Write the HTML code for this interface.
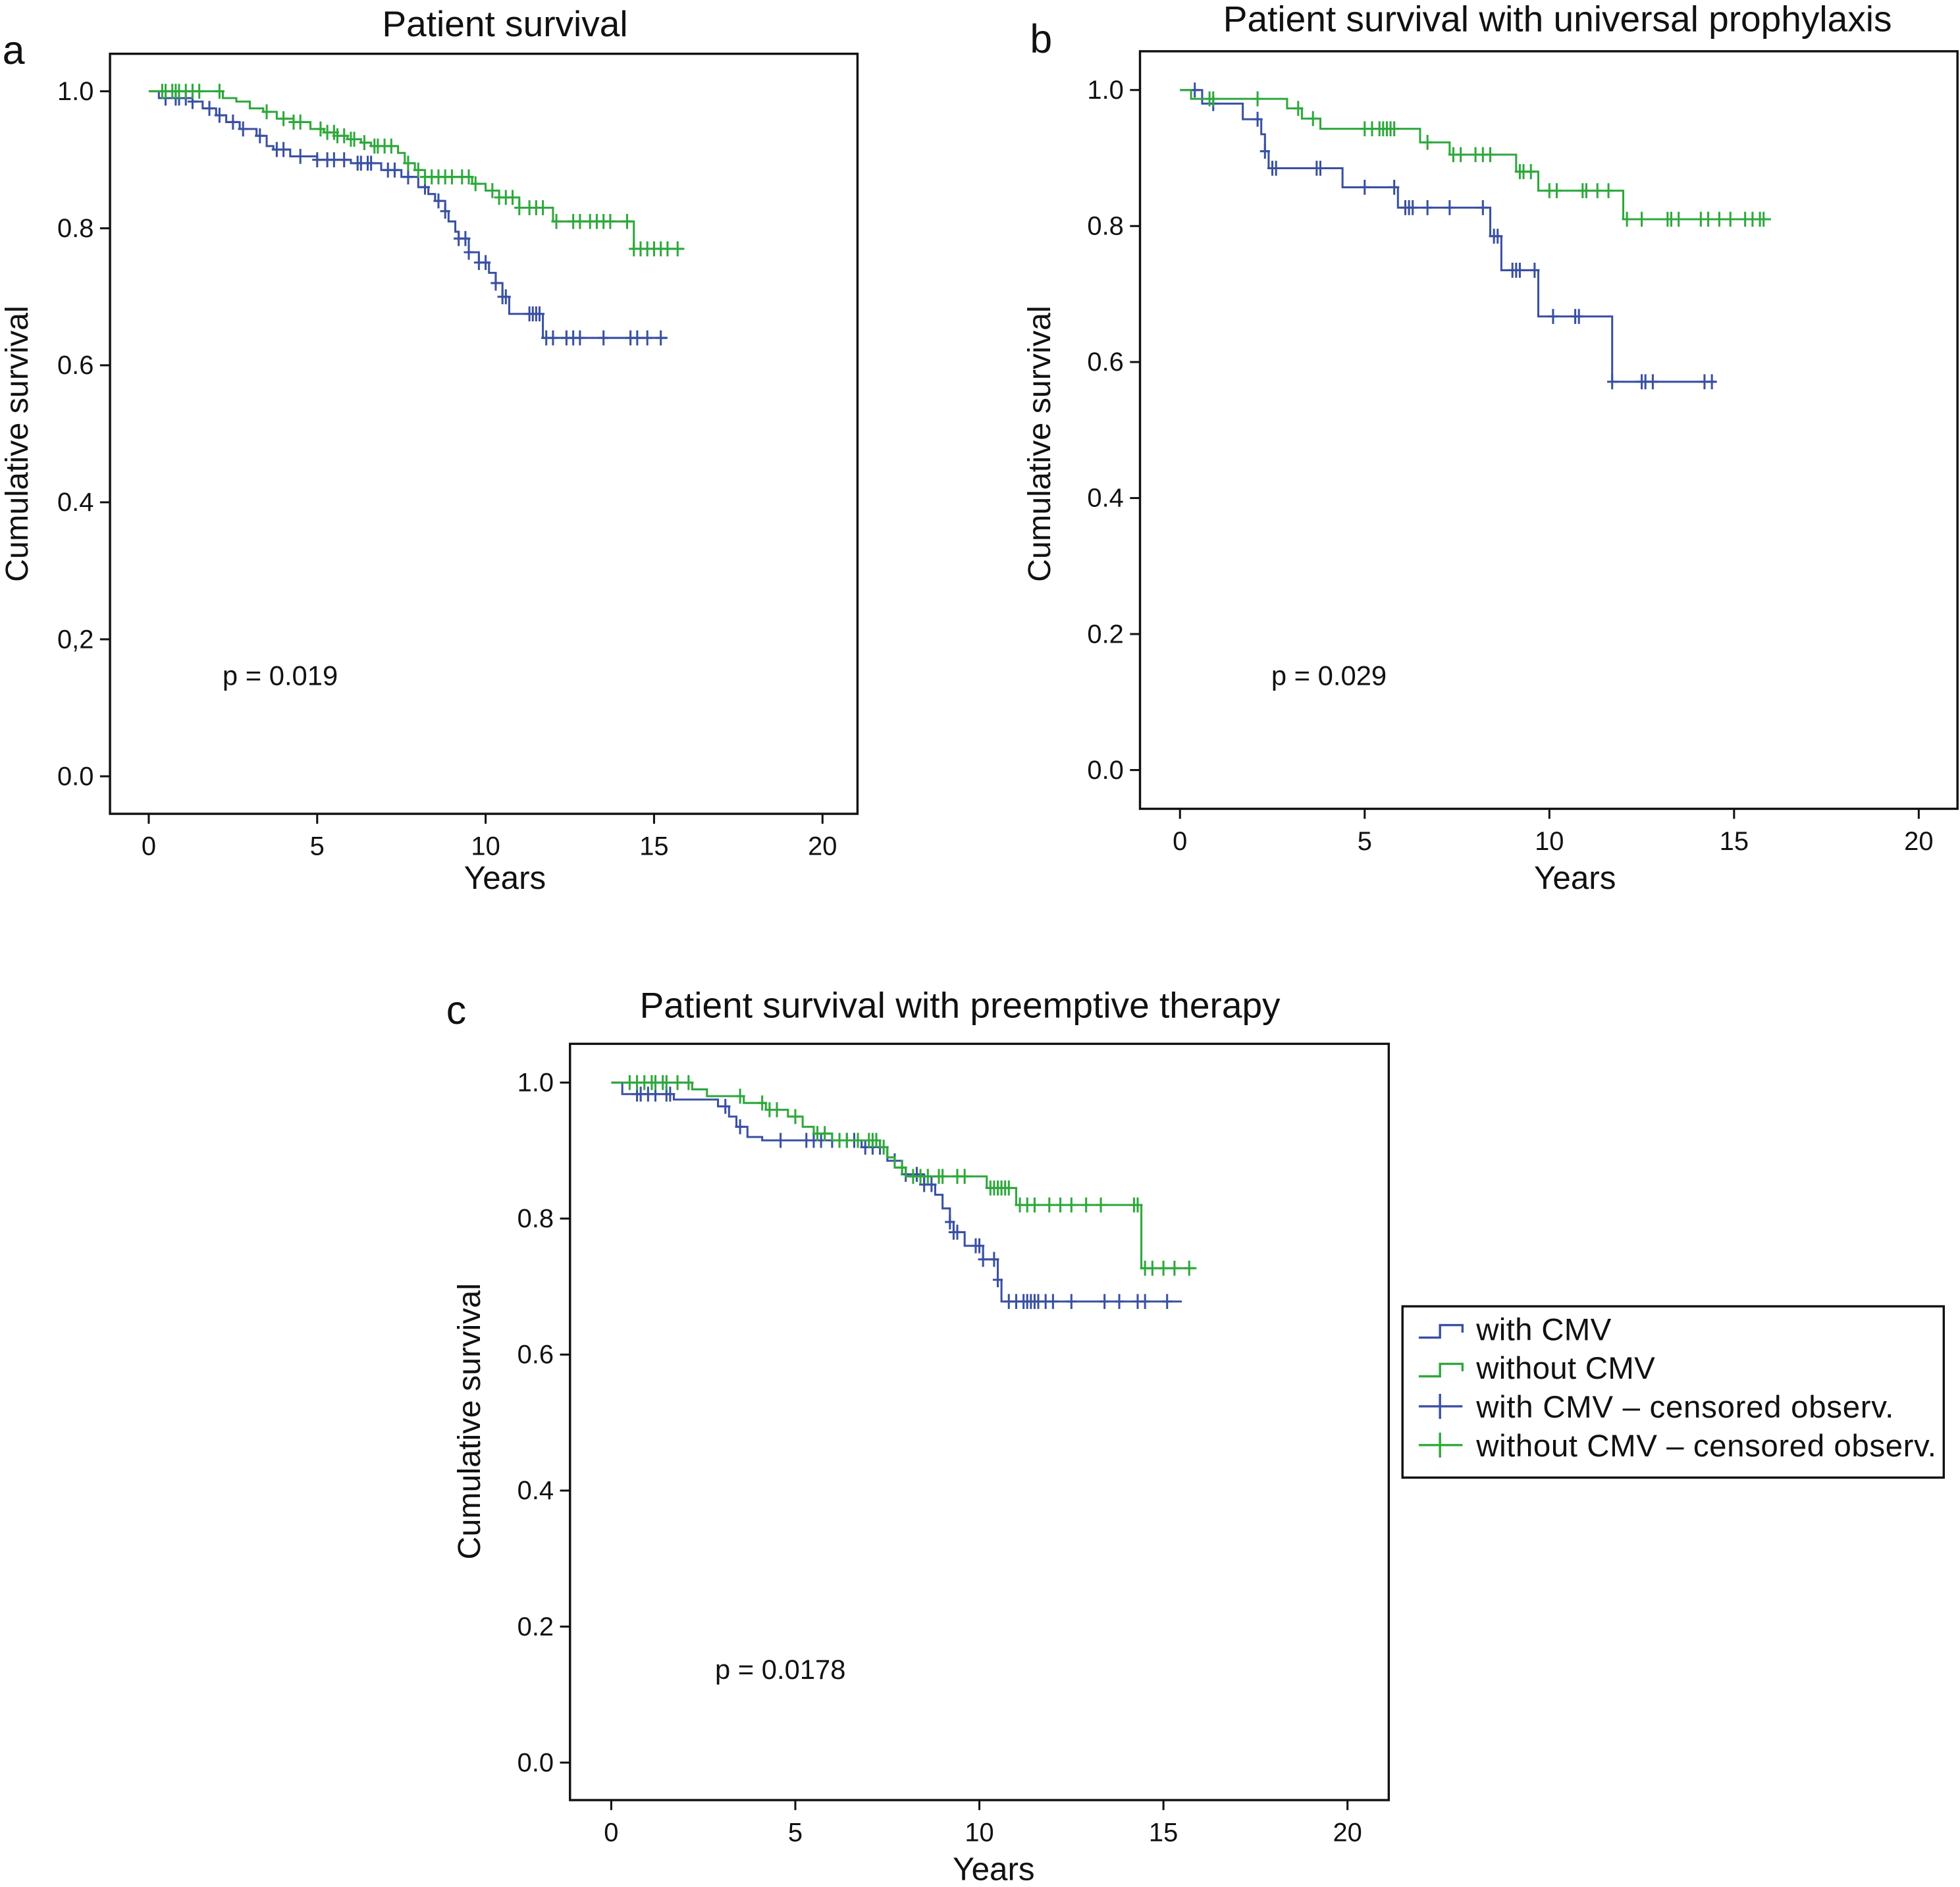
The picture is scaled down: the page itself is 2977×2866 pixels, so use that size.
<!DOCTYPE html>
<html><head><meta charset="utf-8"><style>
html,body{margin:0;padding:0;background:#fff}
svg{display:block}
text{font-family:"Liberation Sans",Arial,sans-serif;fill:#111}
</style></head><body>
<svg id="fig" width="2977" height="2866" viewBox="0 0 1568 1509.5" xmlns="http://www.w3.org/2000/svg">
<rect width="1568" height="1510" fill="#fff"/>
</svg>
<script>
// ---- Panel a data ----
const aBlueTimes=[0.3,1.3,1.6,2.0,2.3,2.7,3.2,3.5,3.7,4.2,5.0,6.0,6.9,7.5,8.0,8.3,8.5,8.8,8.9,9.1,9.2,9.5,9.8,10.1,10.3,10.5,10.7,11.7];
const aBlueSurv=[0.99,0.985,0.975,0.965,0.955,0.945,0.935,0.92,0.915,0.905,0.90,0.895,0.885,0.875,0.86,0.85,0.84,0.825,0.81,0.795,0.785,0.765,0.75,0.735,0.72,0.70,0.675,0.64];
const aBlueEnd=15.4;
const aBlueCens=[0.5,0.8,0.9,1.1,1.3,1.8,2.1,2.5,2.8,3.3,3.8,4.0,4.5,5.0,5.3,5.5,5.8,6.2,6.3,6.5,6.6,7.1,7.3,7.7,8.2,8.6,8.8,9.2,9.4,9.5,9.8,10.0,10.3,10.5,10.6,11.3,11.4,11.5,11.6,11.8,12.0,12.4,12.6,12.8,13.5,14.3,14.5,14.8,15.2];
const aGreenTimes=[2.2,2.6,3.0,3.4,3.8,4.3,4.8,5.2,5.6,5.9,6.3,6.6,7.4,7.6,7.9,8.2,9.6,10.0,10.4,11.0,12.0,14.4];
const aGreenSurv=[0.99,0.985,0.975,0.97,0.96,0.955,0.945,0.94,0.935,0.93,0.925,0.92,0.91,0.895,0.885,0.875,0.865,0.855,0.845,0.83,0.81,0.77];
const aGreenEnd=15.9;
const aGreenCens=[0.4,0.5,0.7,0.8,0.9,1.1,1.3,1.5,2.1,3.5,4.0,4.3,4.5,5.1,5.3,5.5,5.6,5.8,6.0,6.1,6.4,6.7,6.8,7.0,7.2,7.7,8.0,8.2,8.4,8.6,8.8,9.0,9.3,9.5,9.7,10.2,10.4,10.6,10.8,11.0,11.3,11.5,11.7,12.1,12.6,12.8,13.1,13.3,13.5,13.7,14.2,14.4,14.6,14.8,15.0,15.2,15.4,15.7];
// ---- Panel b data ----
const bBlueTimes=[0.6,1.7,2.2,2.3,2.4,4.4,5.9,8.4,8.7,9.7,11.7];
const bBlueSurv=[0.98,0.957,0.935,0.91,0.885,0.857,0.827,0.785,0.735,0.667,0.571];
const bBlueEnd=14.5;
const bBlueCens=[0.4,0.9,2.1,2.3,2.5,2.6,3.7,3.8,5.0,5.8,6.1,6.2,6.3,6.7,7.3,8.2,8.5,8.6,9.0,9.1,9.2,9.6,10.1,10.7,10.8,11.7,12.5,12.6,12.8,14.2,14.4];
const bGreenTimes=[0.3,2.9,3.3,3.8,6.5,7.3,9.1,9.7,12.0];
const bGreenSurv=[0.987,0.973,0.958,0.943,0.923,0.905,0.88,0.852,0.81];
const bGreenEnd=16.0;
const bGreenCens=[0.8,0.9,2.1,3.2,3.6,5.0,5.2,5.4,5.5,5.6,5.7,5.8,6.7,7.4,7.6,8.0,8.2,8.4,9.2,9.3,9.5,10.0,10.2,10.9,11.0,11.3,11.6,12.1,12.5,13.2,13.3,13.5,14.1,14.3,14.6,14.9,15.3,15.5,15.7,15.8];
// ---- Panel c data ----
const cBlueTimes=[0.3,1.7,2.9,3.2,3.4,3.7,4.1,6.8,7.5,7.9,8.5,8.8,9.0,9.2,9.3,9.6,10.1,10.5,10.6];
const cBlueSurv=[0.983,0.975,0.965,0.95,0.935,0.92,0.915,0.905,0.885,0.865,0.85,0.835,0.815,0.795,0.78,0.76,0.74,0.71,0.678];
const cBlueEnd=15.5;
const cBlueCens=[0.7,0.8,1.0,1.2,1.5,1.6,3.1,3.5,4.6,5.3,5.5,5.7,6.0,6.4,6.6,6.9,7.1,7.3,7.7,8.0,8.3,8.5,8.7,9.2,9.3,9.4,9.9,10.0,10.1,10.4,10.5,10.8,11.0,11.2,11.3,11.4,11.5,11.6,11.8,12.0,12.5,13.4,13.8,14.3,14.5,15.1];
const cGreenTimes=[2.2,2.6,3.6,4.2,4.8,5.2,5.5,6.0,7.3,7.5,7.7,8.0,10.2,11.0,14.4];
const cGreenSurv=[0.99,0.98,0.97,0.96,0.95,0.935,0.925,0.915,0.905,0.89,0.875,0.862,0.845,0.82,0.727];
const cGreenEnd=15.9;
const cGreenCens=[0.5,0.7,0.9,1.1,1.2,1.4,1.5,1.8,2.1,3.5,4.1,4.3,4.5,5.0,5.6,5.8,6.2,6.4,6.7,7.0,7.1,7.2,7.4,7.9,8.2,8.4,8.6,8.9,9.0,9.4,9.6,10.3,10.4,10.5,10.6,10.7,10.8,11.1,11.3,11.5,11.9,12.2,12.5,12.9,13.3,14.2,14.3,14.5,14.7,15.0,15.3,15.7];
const yTicksA=["0.0","0,2","0.4","0.6","0.8","1.0"];
const yTicks=["0.0","0.2","0.4","0.6","0.8","1.0"];
const xTicks=[0,5,10,15,20];

const NS="http://www.w3.org/2000/svg";
const svg=document.getElementById('fig');
const BLUE="#3a50a2", GREEN="#2ea83c";
function mk(tag,attrs,parent){const e=document.createElementNS(NS,tag);for(const k in attrs)e.setAttribute(k,attrs[k]);(parent||svg).appendChild(e);return e;}
function txt(s,x,y,size,anchor,parent,rot){const t=mk('text',{x:x,y:y,'font-size':size,'text-anchor':anchor||'start'},parent);if(rot)t.setAttribute('transform',`rotate(-90 ${x} ${y})`);t.textContent=s;return t;}

function stepY(times,surv,t){let v=1;for(let i=0;i<times.length;i++){if(times[i]<=t)v=surv[i];}return v;}

function panel(P){
  const g=mk('g',{});
  
  
  const X=t=>P.x0+(P.x20-P.x0)*t/20;
  const Y=v=>P.y0-(P.y0-P.y1)*v;
  const fr=mk('rect',{x:P.fx,y:P.fy,width:P.fw,height:P.fh,fill:'none',stroke:'#111','stroke-width':1.8},g);
  
  
  P.yt.forEach((s,i)=>{const v=i*0.2;mk('line',{x1:P.fx-8,x2:P.fx,y1:Y(v),y2:Y(v),stroke:'#111','stroke-width':1.6},g);
    const t=txt(s,P.fx-13,Y(v)+7,21,'end',g);
    
    });
  xTicks.forEach(v=>{mk('line',{x1:X(v),x2:X(v),y1:P.fy+P.fh,y2:P.fy+P.fh+8,stroke:'#111','stroke-width':1.6},g);
    const t=txt(String(v),X(v),P.fy+P.fh+33,21,'middle',g);
    
    });
  const ti=txt(P.title,P.tx,P.ty,29,'middle',g);
  
  
  const lt=txt(P.letter,P.lx,P.ly,32,'start',g);
  
  
  const yl=txt('Cumulative survival',P.ylx,P.yly,25.5,'middle',g,true);
  
  
  const xl=txt('Years',P.xlx,P.xly,26,'middle',g);
  
  
  const pv=txt(P.p,P.px,P.py,22,'start',g);
  
  
  P.series.forEach(S=>{
    let d=`M${X(0)},${Y(1)}`;
    S.times.forEach((t,i)=>{d+=` H${X(t)} V${Y(S.surv[i])}`;});
    d+=` H${X(S.end)}`;
    const p=mk('path',{d:d,fill:'none',stroke:S.color,'stroke-width':1.6},g);
    
    
    S.cens.forEach(t=>{const cx=X(t),cy=Y(stepY(S.times,S.surv,t));
      const c=mk('path',{d:`M${cx},${cy-6} V${cy+6} M${cx-4},${cy} H${cx+4}`,stroke:S.color,'stroke-width':1.6,fill:'none'},g);
      
      });
  });
}

panel({name:'panel-a',fx:88,fy:43,fw:598,fh:608,x0:119,x20:658,y0:621,y1:73,yt:yTicksA,
  title:'Patient survival',tx:404,ty:29,letter:'a',lx:2,ly:51,ylx:22,yly:355,xlx:404,xly:711,p:'p = 0.019',px:178,py:548,
  series:[{name:'with-cmv',color:BLUE,times:aBlueTimes,surv:aBlueSurv,end:aBlueEnd,cens:aBlueCens},
          {name:'without-cmv',color:GREEN,times:aGreenTimes,surv:aGreenSurv,end:aGreenEnd,cens:aGreenCens}]});
panel({name:'panel-b',fx:912,fy:41,fw:654,fh:606,x0:944,x20:1535,y0:616,y1:72,yt:yTicks,
  title:'Patient survival with universal prophylaxis',tx:1246,ty:25,letter:'b',lx:824,ly:42,ylx:840,yly:355,xlx:1260,xly:711,p:'p = 0.029',px:1017,py:548,
  series:[{name:'with-cmv',color:BLUE,times:bBlueTimes,surv:bBlueSurv,end:bBlueEnd,cens:bBlueCens},
          {name:'without-cmv',color:GREEN,times:bGreenTimes,surv:bGreenSurv,end:bGreenEnd,cens:bGreenCens}]});
panel({name:'panel-c',fx:456,fy:835,fw:655,fh:605,x0:489,x20:1078,y0:1410,y1:866,yt:yTicks,
  title:'Patient survival with preemptive therapy',tx:768,ty:814,letter:'c',lx:357,ly:819,ylx:384,yly:1137,xlx:795,xly:1504,p:'p = 0.0178',px:572,py:1343,
  series:[{name:'with-cmv',color:BLUE,times:cBlueTimes,surv:cBlueSurv,end:cBlueEnd,cens:cBlueCens},
          {name:'without-cmv',color:GREEN,times:cGreenTimes,surv:cGreenSurv,end:cGreenEnd,cens:cGreenCens}]});

const lg=mk('g',{});


mk('rect',{x:1122,y:1045,width:433,height:137,fill:'#fff',stroke:'#111','stroke-width':1.8},lg);
const legItems=[['with CMV',BLUE,'step'],['without CMV',GREEN,'step'],['with CMV \u2013 censored observ.',BLUE,'plus'],['without CMV \u2013 censored observ.',GREEN,'plus']];
legItems.forEach((it,i)=>{const y=1063+i*31;
  const e=mk('g',{},lg);
  
  
  if(it[2]==='step')mk('path',{d:`M1135,${y+7} H1152 V${y-3} H1170 V${y+3}`,fill:'none',stroke:it[1],'stroke-width':1.8},e);
  else mk('path',{d:`M1135,${y} H1170 M1152,${y-10} V${y+10}`,fill:'none',stroke:it[1],'stroke-width':1.8},e);
  const t=txt(it[0],1181,y+9,25,'start',e);
  t.setAttribute('textLength', i===3?368:(i===2?334:(i===1?143:108)));});
</script>
</body></html>
